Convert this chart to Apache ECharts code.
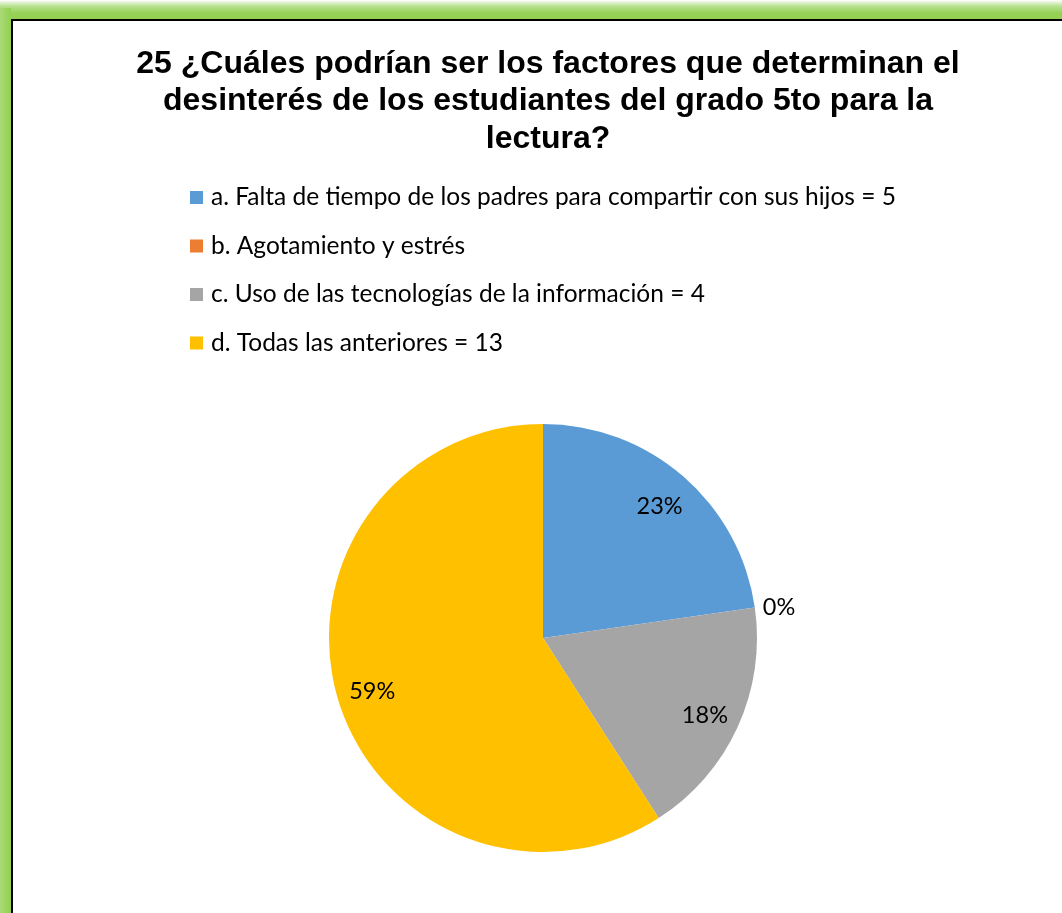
<!DOCTYPE html>
<html>
<head>
<meta charset="utf-8">
<script src="https://cdn.jsdelivr.net/npm/echarts@6/dist/echarts.min.js"></script>
<style>
  html, body { margin: 0; padding: 0; background: #fff; }
  #myChart { width: 1062px; height: 913px; }
</style>
</head>
<body>
<div id="myChart"></div>
<script>
// datos del gráfico
const titleText = '25 ¿Cuáles podrían ser los factores que determinan el\ndesinterés de los estudiantes del grado 5to para la\nlectura?'
const categories = [
  'a. Falta de tiempo de los padres para compartir con sus hijos = 5',
  'b. Agotamiento y estrés',
  'c. Uso de las tecnologías de la información = 4',
  'd. Todas las anteriores = 13'
]
const values = [5, 0, 4, 13]
const colors = ['#5B9BD5', '#ED7D31', '#A5A5A5', '#FFC000']

const labelFont = 'Lato, "Open Sans", sans-serif'

const myChart = echarts.init(document.getElementById('myChart'))

const myOption = {
  color: colors,
  title: {
    text: titleText,
    left: 543,
    top: 40,
    textAlign: 'center',
    textStyle: {
      fontFamily: '"Liberation Sans", Arial, sans-serif',
      fontSize: 32,
      fontWeight: 'bold',
      lineHeight: 37.5,
      color: '#000'
    }
  },
  legend: {
    orient: 'vertical',
    left: 185,
    top: 180,
    itemWidth: 13,
    itemHeight: 13,
    itemGap: 23.5,
    icon: 'rect',
    data: categories,
    textStyle: { fontFamily: labelFont, fontSize: 24.5, color: '#000', padding: [0, 0, 0, 3] }
  },
  // marco verde
  graphic: [
    {
      type: 'rect', silent: true,
      shape: { x: 0, y: 0, width: 1062, height: 20 },
      style: {
        fill: new echarts.graphic.LinearGradient(0, 0, 0, 1, [
          { offset: 0, color: '#ffffff' },
          { offset: 0.3, color: '#b9e292' },
          { offset: 0.65, color: '#96d157' },
          { offset: 1, color: '#92D050' }
        ])
      }
    },
    {
      type: 'rect', silent: true,
      shape: { x: 0, y: 8, width: 11, height: 905 },
      style: {
        fill: new echarts.graphic.LinearGradient(0, 0, 1, 0, [
          { offset: 0, color: '#a8da76' },
          { offset: 1, color: '#92D050' }
        ])
      }
    },
    {
      type: 'rect', silent: true,
      shape: { x: 11, y: 19, width: 1051, height: 2 },
      style: { fill: '#000' }
    },
    {
      type: 'rect', silent: true,
      shape: { x: 11, y: 19, width: 2, height: 894 },
      style: { fill: '#000' }
    }
  ],
  series: [
    {
      name: 'pie',
      type: 'pie',
      center: [543, 638],
      radius: 214,
      startAngle: 90,
      clockwise: true,
      avoidLabelOverlap: false,
      silent: true,
      data: categories.map((name, i) => ({
        name: name,
        value: values[i],
        label: { show: values[i] === 0 }
      })),
      label: {
        position: 'outside',
        formatter: p => Math.round(p.percent) + '%',
        fontFamily: labelFont,
        fontSize: 23.5,
        color: '#000'
      },
      labelLine: { show: false, length: 3, length2: 0 },
      itemStyle: { borderWidth: 0 }
    },
    {
      // capa transparente solo para colocar las etiquetas internas
      name: 'labels',
      type: 'pie',
      center: [543, 641],
      radius: 350,
      startAngle: 90,
      clockwise: true,
      silent: true,
      data: categories.map((name, i) => ({
        name: name,
        value: values[i],
        label: { show: values[i] !== 0 }
      })),
      itemStyle: { color: 'rgba(0,0,0,0)' },
      label: {
        position: 'inside',
        formatter: p => Math.round(p.percent) + '%',
        fontFamily: labelFont,
        fontSize: 23.5,
        color: '#000'
      },
      labelLine: { show: false }
    }
  ]
}

myChart.setOption(myOption)
</script>
</body>
</html>
